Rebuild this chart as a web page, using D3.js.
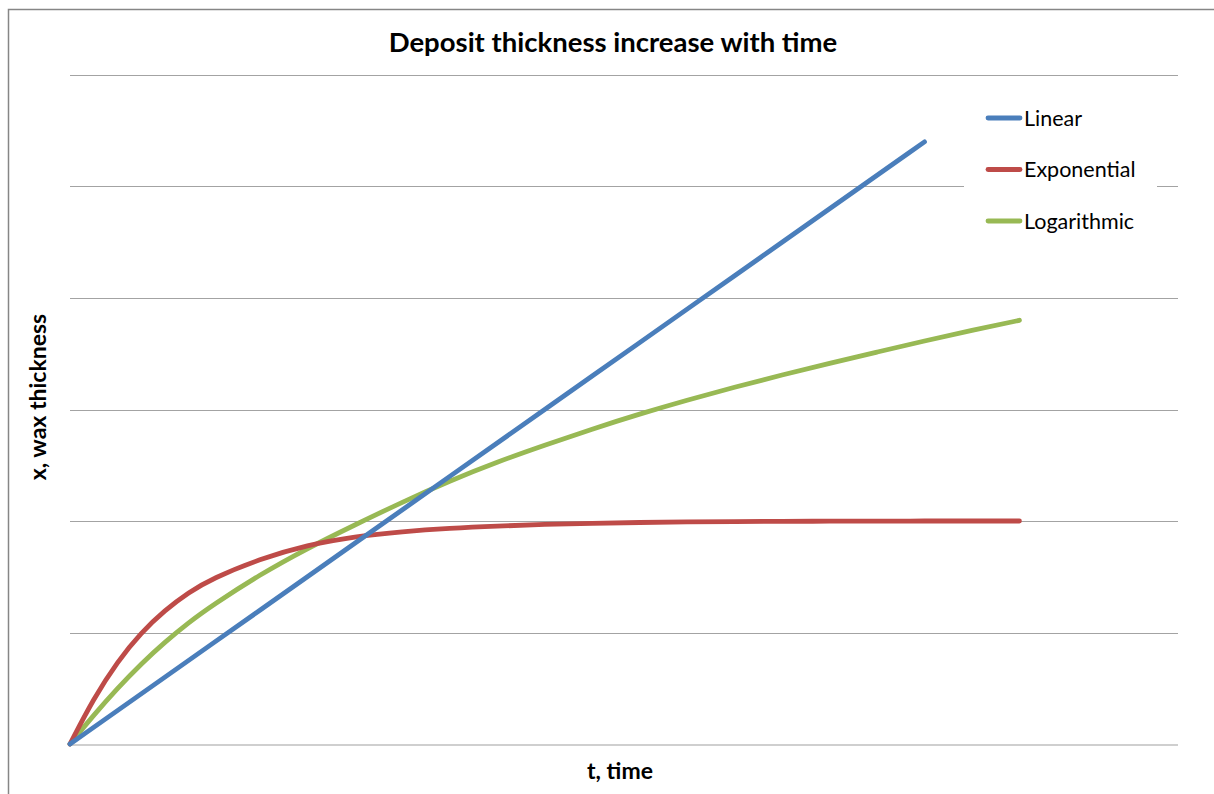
<!DOCTYPE html>
<html>
<head>
<meta charset="utf-8">
<script src="https://cdn.jsdelivr.net/npm/d3@7/dist/d3.min.js"></script>
<style>
  html, body { margin: 0; padding: 0; background: #fff; }
  svg { display: block; }
  text { font-family: Lato, "Liberation Sans", sans-serif; fill: #000; }
</style>
</head>
<body>
<svg id="chart" width="1214" height="794"></svg>
<script>
// Deposit thickness vs. time for three growth models (arbitrary units)
const seriesNames = ["Linear", "Exponential", "Logarithmic"];
const seriesColors = ["#4a7ebb", "#be4b48", "#98b954"];

const linearT = [0, 1, 2, 3, 4, 5, 6, 7, 8, 9];
const linearX = [0, 0.6, 1.2, 1.8, 2.4, 3.0, 3.6, 4.2, 4.8, 5.4];

const curveT = [0, 0.25, 0.5, 0.75, 1, 1.25, 1.5, 2, 2.5, 3, 3.5, 4, 4.5, 5, 5.5, 6, 6.5, 7, 7.5, 8, 8.5, 9, 9.5, 10];
const expX = [0, 0.41, 0.74, 1.00, 1.20, 1.36, 1.485, 1.66, 1.785, 1.86, 1.905, 1.935, 1.955, 1.97, 1.98, 1.987, 1.992, 1.995, 1.997, 1.998, 1.999, 2.0, 2.0, 2.0];
const logX = [0, 0.26, 0.50, 0.72, 0.915, 1.09, 1.245, 1.52, 1.755, 1.965, 2.17, 2.36, 2.53, 2.68, 2.825, 2.96, 3.085, 3.20, 3.31, 3.415, 3.515, 3.615, 3.71, 3.80];

const gridTicks = [0, 1, 2, 3, 4, 5, 6];

const svg = d3.select("#chart");

const plot = { left: 70, right: 1178, top: 75, bottom: 744 };

const x = d3.scaleLinear().domain([0, 11.67]).range([plot.left, plot.right]);
const y = d3.scaleLinear().domain([0, 6]).range([plot.bottom, plot.top]);

// outer chart frame
svg.append("rect")
  .attr("x", 8.5).attr("y", 9.5)
  .attr("width", 1300).attr("height", 900)
  .attr("fill", "#fff")
  .attr("stroke", "#868686")
  .attr("stroke-width", 1.5);

// horizontal gridlines
svg.append("g")
  .selectAll("line")
  .data(gridTicks.filter(d => d > 0))
  .join("line")
  .attr("x1", plot.left).attr("x2", plot.right)
  .attr("y1", d => Math.round(y(d)) + 0.5)
  .attr("y2", d => Math.round(y(d)) + 0.5)
  .attr("stroke", "#a3a3a3")
  .attr("stroke-width", 1);

// category axis baseline
svg.append("line")
  .attr("x1", plot.left).attr("x2", plot.right)
  .attr("y1", y(0) + 1).attr("y2", y(0) + 1)
  .attr("stroke", "#cfcfcf")
  .attr("stroke-width", 2);

const series = [
  { name: seriesNames[0], color: seriesColors[0], t: linearT, v: linearX },
  { name: seriesNames[1], color: seriesColors[1], t: curveT, v: expX },
  { name: seriesNames[2], color: seriesColors[2], t: curveT, v: logX }
];

// smoothed line through the sampled points
const line = d3.line()
  .x(d => x(d[0]))
  .y(d => y(d[1]))
  .curve(d3.curveBasis);

// draw in reverse so the linear series sits on top
svg.append("g")
  .selectAll("path")
  .data(series.slice().reverse())
  .join("path")
  .attr("d", s => line(s.t.map((t, i) => [t, s.v[i]])))
  .attr("fill", "none")
  .attr("stroke", s => s.color)
  .attr("stroke-width", 4.8)
  .attr("stroke-linecap", "round")
  .attr("stroke-linejoin", "round");

// legend
const legend = svg.append("g");
legend.append("rect")
  .attr("x", 964).attr("y", 95)
  .attr("width", 193).attr("height", 150)
  .attr("fill", "#fff");

const legendRows = legend.selectAll("g.row")
  .data(series)
  .join("g")
  .attr("class", "row")
  .attr("transform", (d, i) => `translate(0, ${118 + i * 51.5})`);

legendRows.append("line")
  .attr("x1", 988).attr("x2", 1020)
  .attr("y1", 0).attr("y2", 0)
  .attr("stroke", d => d.color)
  .attr("stroke-width", 4.8)
  .attr("stroke-linecap", "round");

legendRows.append("text")
  .attr("x", 1024).attr("y", 7.5)
  .attr("font-size", 21.5)
  .text(d => d.name);

// title
svg.append("text")
  .attr("x", 613).attr("y", 52)
  .attr("text-anchor", "middle")
  .attr("font-size", 27.5)
  .attr("font-weight", "bold")
  .text("Deposit thickness increase with time");

// axis titles
svg.append("text")
  .attr("x", 620).attr("y", 779)
  .attr("text-anchor", "middle")
  .attr("font-size", 23)
  .attr("font-weight", "bold")
  .text("t, time");

svg.append("text")
  .attr("transform", "translate(46, 397) rotate(-90)")
  .attr("text-anchor", "middle")
  .attr("font-size", 23)
  .attr("font-weight", "bold")
  .text("x, wax thickness");
</script>
</body>
</html>
